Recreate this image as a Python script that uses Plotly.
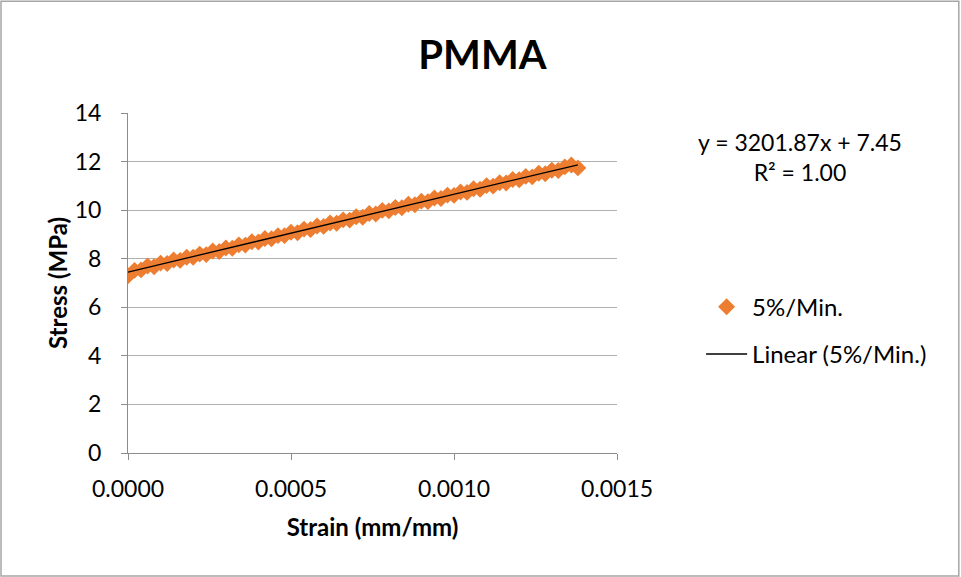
import plotly.graph_objects as go

# Tensile test, PMMA at 5%/min
strain = [0.00000, 0.00002, 0.00004, 0.00006, 0.00008, 0.00010, 0.00012, 0.00014,
          0.00016, 0.00018, 0.00020, 0.00022, 0.00024, 0.00026, 0.00028, 0.00030,
          0.00032, 0.00034, 0.00036, 0.00038, 0.00040, 0.00042, 0.00044, 0.00046,
          0.00048, 0.00050, 0.00052, 0.00054, 0.00056, 0.00058, 0.00060, 0.00062,
          0.00064, 0.00066, 0.00068, 0.00070, 0.00072, 0.00074, 0.00076, 0.00078,
          0.00080, 0.00082, 0.00084, 0.00086, 0.00088, 0.00090, 0.00092, 0.00094,
          0.00096, 0.00098, 0.00100, 0.00102, 0.00104, 0.00106, 0.00108, 0.00110,
          0.00112, 0.00114, 0.00116, 0.00118, 0.00120, 0.00122, 0.00124, 0.00126,
          0.00128, 0.00130, 0.00132, 0.00134, 0.00136, 0.00138]
stress = [7.30, 7.52, 7.54, 7.70, 7.67, 7.82, 7.80, 7.95,
          7.93, 8.06, 8.06, 8.19, 8.17, 8.32, 8.30, 8.44,
          8.43, 8.57, 8.56, 8.70, 8.69, 8.83, 8.82, 8.95,
          8.95, 9.09, 9.07, 9.22, 9.20, 9.35, 9.33, 9.47,
          9.46, 9.60, 9.59, 9.73, 9.71, 9.86, 9.84, 9.99,
          9.97, 10.11, 10.10, 10.24, 10.22, 10.37, 10.35, 10.50,
          10.48, 10.62, 10.61, 10.75, 10.73, 10.88, 10.86, 11.01,
          10.99, 11.13, 11.12, 11.26, 11.25, 11.39, 11.37, 11.52,
          11.50, 11.64, 11.63, 11.78, 11.86, 11.74]

# Linear trendline coefficients
slope = 3201.87
intercept = 7.45
r_squared = 1.00

x_ticks = [0.0000, 0.0005, 0.0010, 0.0015]
y_ticks = [0, 2, 4, 6, 8, 10, 12, 14]

FONT = "Lato, Open Sans, sans-serif"
ORANGE = "#ED7D31"

trend_x = [strain[0], strain[-1]]
trend_y = [slope * v + intercept for v in trend_x]

fig = go.Figure()
fig.add_trace(go.Scatter(
    x=strain, y=stress, mode="markers", name="5%/Min.",
    legendgroup="a",
    marker=dict(symbol="diamond", size=13, color=ORANGE, line=dict(width=0)),
))
fig.add_trace(go.Scatter(
    x=trend_x, y=trend_y, mode="lines", name="Linear (5%/Min.)",
    legendgroup="b",
    line=dict(color="black", width=1.3),
))

fig.update_layout(
    width=961, height=577,
    margin=dict(l=128, r=344, t=113, b=124),
    paper_bgcolor="white", plot_bgcolor="white",
    font=dict(family=FONT, size=23, color="black"),
    title=dict(text="<b>PMMA</b>", x=0.502, xref="container", xanchor="center",
               y=0.905, yanchor="middle", font=dict(size=40, family=FONT)),
    showlegend=True,
    legend=dict(x=1.172, y=0.495, xanchor="left", yanchor="top",
                tracegroupgap=13, traceorder="grouped", itemwidth=41,
                font=dict(size=24, family=FONT), bgcolor="rgba(0,0,0,0)"),
    xaxis=dict(
        range=[0, 0.0015], tickvals=x_ticks, tickformat=".4f",
        showgrid=False, zeroline=False,
        showline=True, linecolor="#8c8c8c", linewidth=1,
        ticks="outside", tickcolor="#8c8c8c", ticklen=6,
        ticklabelstandoff=9, tickfont=dict(size=23),
        title=dict(text="<b>Strain (mm/mm)</b>", font=dict(size=24), standoff=18),
    ),
    yaxis=dict(
        range=[0, 14], tickvals=y_ticks,
        showgrid=True, gridcolor="#b0b0b0", gridwidth=1, zeroline=False,
        showline=True, linecolor="#8c8c8c", linewidth=1,
        ticks="outside", tickcolor="#8c8c8c", ticklen=6,
        ticklabelstandoff=15, tickfont=dict(size=23),
        title=dict(text="<b>Stress (MPa)</b>", font=dict(size=24), standoff=0),
    ),
)

fig.add_annotation(
    text=f"y = {slope:.2f}x + {intercept:.2f}<br>R² = {r_squared:.2f}",
    xref="paper", yref="paper", x=1.374, y=0.961, xanchor="center", yanchor="top",
    showarrow=False, align="center", font=dict(size=23, family=FONT),
)

# chart border
fig.add_shape(type="rect", xref="paper", yref="paper",
              x0=-0.2597, x1=1.699, y0=-0.3618, y1=1.329,
              line=dict(color="#a6a6a6", width=1.5), fillcolor="rgba(0,0,0,0)",
              layer="below")

fig.write_html("out.html")
